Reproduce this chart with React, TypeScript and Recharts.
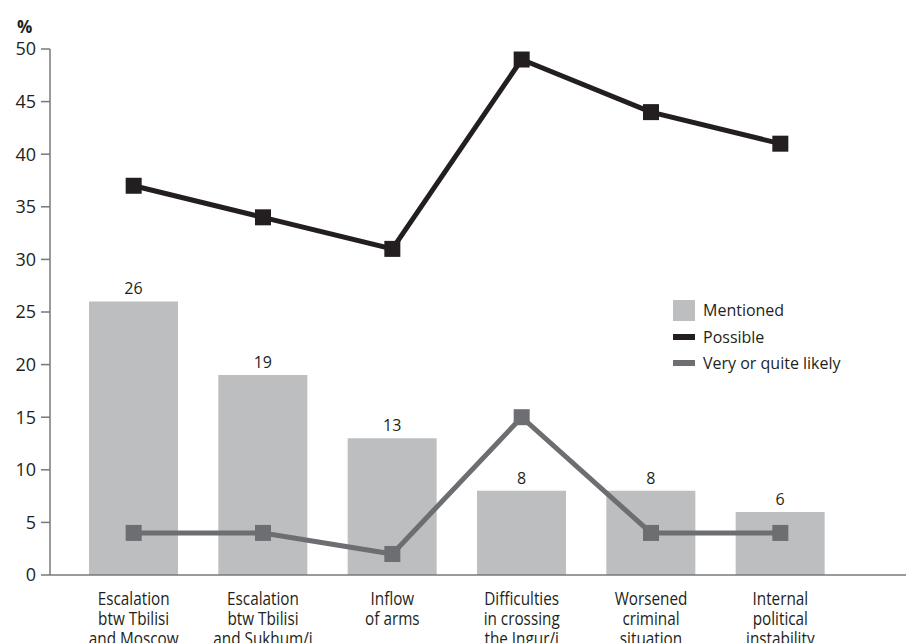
import React from 'react';
import { ComposedChart, Bar, Line, XAxis, YAxis, LabelList } from 'recharts';

const categories = [
  'Escalation\nbtw Tbilisi\nand Moscow',
  'Escalation\nbtw Tbilisi\nand Sukhum/i',
  'Inflow\nof arms',
  'Difficulties\nin crossing\nthe Ingur/i',
  'Worsened\ncriminal\nsituation',
  'Internal\npolitical\ninstability',
];
const mentioned = [26, 19, 13, 8, 8, 6];
const possible = [37, 34, 31, 49, 44, 41];
const veryLikely = [4, 4, 2, 15, 4, 4];
const yTicks = [0, 5, 10, 15, 20, 25, 30, 35, 40, 45, 50];

const BAR_COLOR = '#bcbec0';
const BLACK = '#231f20';
const GREY = '#6d6e71';
const AXIS = '#77787b';

const legendItems = [
  { label: 'Mentioned', color: BAR_COLOR, kind: 'box' },
  { label: 'Possible', color: BLACK, kind: 'line' },
  { label: 'Very or quite likely', color: GREY, kind: 'line' },
];

const data = categories.map((name, i) => ({
  name,
  mentioned: mentioned[i],
  possible: possible[i],
  veryLikely: veryLikely[i],
}));

const squareDot = (color: string) => (props: any) => {
  const { cx, cy, index } = props;
  return <rect key={`sq-${color}-${index}`} x={cx - 8} y={cy - 8} width={16} height={16} fill={color} />;
};

// narrow face is not installed, so squeeze Open Sans horizontally
const CategoryTick = (props: any) => {
  const { x, y, payload } = props;
  const lines = String(payload.value).split('\n');
  return (
    <g transform={`translate(${x},${y}) scale(0.85,1)`}>
      <text x={0} y={0} textAnchor="middle" fill={BLACK} fontSize={18} fontFamily='"Open Sans", sans-serif'>
        {lines.map((l, i) => (
          <tspan key={i} x={0} dy={i === 0 ? 30 : 20}>{l}</tspan>
        ))}
      </text>
    </g>
  );
};

export default function App() {
  return (
    <div style={{ position: 'relative', width: 906, height: 643, fontFamily: '"Open Sans", sans-serif', background: '#fff' }}>
      <style>{'body{margin:0}'}</style>
      <ComposedChart width={906} height={643} data={data} margin={{ top: 49, right: 0, left: 0, bottom: 0 }}>
        <XAxis dataKey="name" interval={0} height={68} tick={<CategoryTick />} tickLine={false}
          tickSize={0} tickMargin={0} stroke={AXIS} strokeWidth={1.5}
          padding={{ left: 19, right: 61 }} />
        <YAxis domain={[0, 50]} ticks={yTicks} width={50} tickSize={9} tickMargin={5}
          stroke={AXIS} strokeWidth={1.5} interval={0}
          tick={{ fill: BLACK, fontSize: 18, fontFamily: '"Open Sans", sans-serif' }} />
        <Bar dataKey="mentioned" fill={BAR_COLOR} barSize={89} isAnimationActive={false}>
          <LabelList dataKey="mentioned" position="top" offset={7} fill={BLACK} fontSize={16}
            fontFamily='"Open Sans", sans-serif' />
        </Bar>
        <Line dataKey="possible" stroke={BLACK} strokeWidth={5} dot={squareDot(BLACK)} activeDot={false}
          isAnimationActive={false} type="linear" />
        <Line dataKey="veryLikely" stroke={GREY} strokeWidth={5} dot={squareDot(GREY)} activeDot={false}
          isAnimationActive={false} type="linear" />
      </ComposedChart>
      <div style={{ position: 'absolute', left: 17, top: 15, fontWeight: 700, fontSize: 17, color: BLACK }}>%</div>
      <div style={{ position: 'absolute', left: 673, top: 297 }}>
        {legendItems.map((it) => (
          <div key={it.label} style={{ display: 'flex', alignItems: 'center', height: 26.5, fontSize: 16, color: BLACK }}>
            <span style={{ display: 'inline-block', width: 22, height: it.kind === 'box' ? 21 : 6, background: it.color, marginRight: 8 }} />
            <span>{it.label}</span>
          </div>
        ))}
      </div>
    </div>
  );
}
